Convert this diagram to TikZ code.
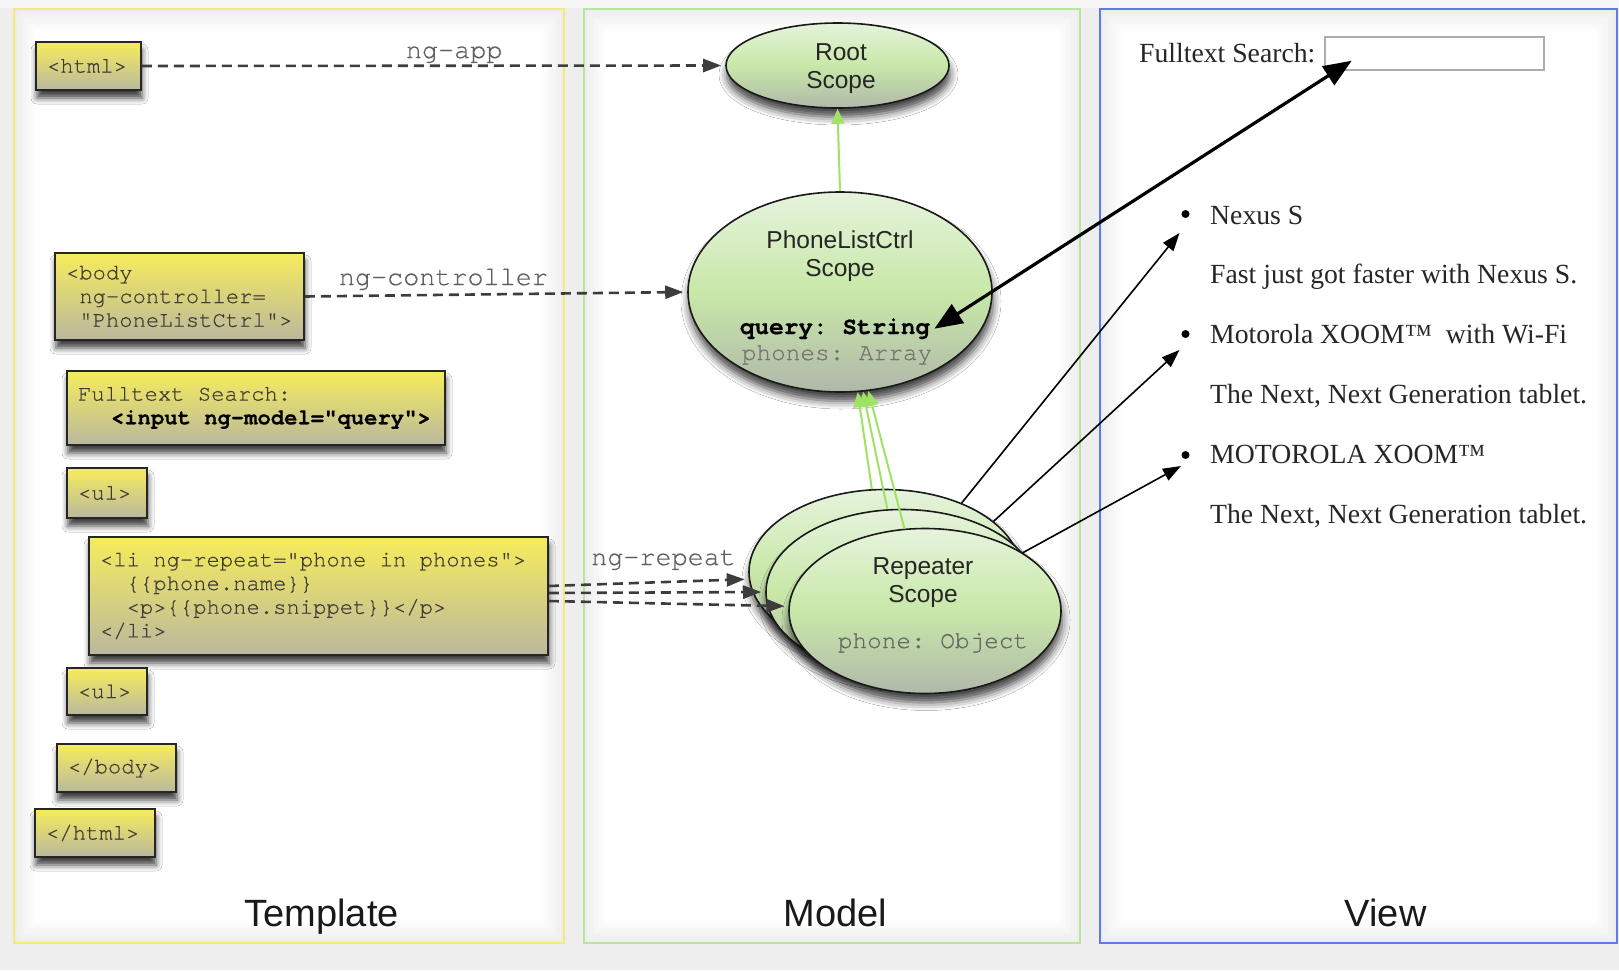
\documentclass[tikz,border=0pt]{standalone}
\usepackage{fontspec}
\setmainfont{Liberation Serif}
\newfontfamily\sansf{Liberation Sans}
\newfontfamily\monof{TeX Gyre Cursor}[FakeBold=0.5]
\usetikzlibrary{arrows.meta,shapes.geometric,shadows.blur}

\definecolor{tagtop}{RGB}{246,236,92}
\definecolor{tagbot}{RGB}{186,184,158}
\definecolor{tagink}{RGB}{62,60,52}
\definecolor{scopetop}{RGB}{230,243,220}
\definecolor{scopemid}{RGB}{200,232,168}
\definecolor{scopebot}{RGB}{176,184,170}
\definecolor{panelY}{RGB}{244,234,120}
\definecolor{panelG}{RGB}{184,228,160}
\definecolor{panelB}{RGB}{92,122,240}
\definecolor{linkgreen}{RGB}{160,226,100}
\definecolor{dashink}{RGB}{60,60,60}
\definecolor{lblink}{RGB}{96,96,96}
\definecolor{bgcol}{RGB}{238,238,238}

\newcommand\tagfont{\monof\fontsize{22.2}{23.7}\selectfont}
\newcommand\lblfont{\monof\fontsize{26.8}{28}\selectfont}
\newcommand\fieldfont{\monof\fontsize{24.4}{26}\selectfont}
\newcommand\scopefont{\sansf\fontsize{24.5}{28}\selectfont}
\newcommand\panelfont{\sansf\fontsize{38}{40}\selectfont}
\newcommand\pagefont{\fontsize{27.7}{30}\selectfont}
% one fixed-pitch blank cell in the typewriter lines
\newcommand\blankcell{\phantom{x}}

\tikzset{
  tagbox/.style={draw=black!85, line width=1.8pt, top color=tagtop, bottom color=tagbot,
    text=tagink, font=\tagfont, align=left, inner xsep=11pt, inner ysep=0pt,
    blur shadow={shadow xshift=1pt, shadow yshift=-8pt, shadow blur radius=6pt, shadow opacity=75}},
  scopeell/.style={ellipse, draw=black!90, line width=1.6pt, top color=scopetop,
    bottom color=scopebot, middle color=scopemid, inner sep=0pt,
    blur shadow={shadow xshift=1pt, shadow yshift=-9pt, shadow blur radius=8pt, shadow opacity=75}},
  scopetxt/.style={font=\scopefont, text=black!85, inner sep=0pt, anchor=base},
  fieldtxt/.style={font=\fieldfont, inner xsep=4pt, inner ysep=2pt, anchor=base},
  lbl/.style={font=\lblfont, text=lblink, inner sep=0pt, anchor=base west},
  paneltxt/.style={font=\panelfont, text=black!90, inner sep=0pt, anchor=base},
  pagetxt/.style={font=\pagefont, text=black!85, inner sep=0pt, anchor=base west},
  dot/.style={circle, fill=black, inner sep=0pt, minimum size=8pt},
  bind/.style={dashink, line width=2.6pt, dash pattern=on 10pt off 6pt,
    -{Triangle[length=18pt,width=13pt]}, shorten >=4pt},
  inherit/.style={linkgreen, line width=2pt, -{Triangle[length=15pt,width=13pt]}},
  render/.style={black, line width=1.6pt, -{Triangle[length=18pt,width=13pt]}},
  twoway/.style={black, line width=3.2pt,
    {Triangle[length=28pt,width=22pt]}-{Triangle[length=28pt,width=22pt]}},
}

\begin{document}
\frenchspacing
\begin{tikzpicture}[x=1pt,y=-1pt]
\useasboundingbox (0,0) rectangle (1619,970);
\fill[bgcol] (0,0) rectangle (1619,970);
\fill[black!3] (0,0) rectangle (1619,8);

% three panels with a soft inner shade
\foreach \xa/\xb/\col in {14/564/panelY,584/1080/panelG,1100/1617/panelB}{
  \foreach \k in {0,...,7}{
    \pgfmathtruncatemacro\tone{7-\k}
    \fill[black!\tone] (\xa+3*\k,9+3*\k) rectangle (\xb-3*\k,943-3*\k);
  }
  \draw[\col, line width=2pt] (\xa,9) rectangle (\xb,943);
}

\node[paneltxt] (tmpl) at (321.6,926.5) {Template};
\node[paneltxt] (mdl) at (835.5,926.5) {Model};
\node[paneltxt] (vw) at (1385.6,926.5) {View};

% template tags
\node[tagbox, minimum width=105pt, minimum height=48pt, text width=83pt] (html) at (88.5,66) {<html>};
\node[tagbox, minimum width=249pt, minimum height=87pt, text width=227pt] (body) at (179.5,296.5)
  {<body\\\blankcell ng-controller=\\\blankcell "PhoneListCtrl">};
\node[tagbox, minimum width=378pt, minimum height=74pt, text width=356pt] (fulltext) at (256,408)
  {Fulltext\blankcell Search:\\\hspace*{33pt}{\color{black}\bfseries <input\blankcell ng-model="query">}};
\node[tagbox, minimum width=80pt, minimum height=50pt, text width=58pt] (ulA) at (107,493) {<ul>};
\node[tagbox, minimum width=459pt, minimum height=118pt, text width=437pt] (li) at (318.5,596)
  {<li\blankcell ng-repeat="phone\blankcell in\blankcell phones">\\\blankcell\blankcell\{\{phone.name\}\}\\\blankcell\blankcell <p>\{\{phone.snippet\}\}</p>\\</li>};
\node[tagbox, minimum width=80pt, minimum height=47pt, text width=58pt] (ulB) at (107,691.5) {<ul>};
\node[tagbox, minimum width=119pt, minimum height=48pt, text width=97pt] (ebody) at (116.5,768) {</body>};
\node[tagbox, minimum width=120pt, minimum height=48pt, text width=98pt] (ehtml) at (95,833) {</html>};

% model scopes
\node[scopeell, minimum width=223pt, minimum height=85pt] (root) at (837.5,65.5) {};
\node[scopetxt] (rootA) at (841,60) {Root};
\node[scopetxt] (rootB) at (841,88) {Scope};

\node[scopeell, minimum width=304pt, minimum height=200pt] (plc) at (840,292) {};
\node[scopetxt] (plcA) at (840,248) {PhoneListCtrl};
\node[scopetxt] (plcB) at (840,276.5) {Scope};
\node[fieldtxt, font={\fieldfont\bfseries}, text=black] (query) at (835,334) {query:\blankcell String};
\node[fieldtxt, text=black!55] (phones) at (837,360) {phones:\blankcell Array};

\node[scopeell, minimum width=272pt, minimum height=165pt] (rep1) at (885,572) {};
\node[scopeell, minimum width=272pt, minimum height=165pt] (rep2) at (902,592) {};
\node[scopeell, minimum width=272pt, minimum height=165pt] (rep3) at (925,611) {};
\node[scopetxt] (repA) at (923,574) {Repeater};
\node[scopetxt] (repB) at (923,602) {Scope};
\node[fieldtxt, text=black!60] (phone) at (933,648) {phone:\blankcell Object};

% rendered view
\node[pagetxt] (search) at (1139,62) {Fulltext Search:};
\node[draw=gray!65, line width=1.5pt, fill=white, minimum width=219pt, minimum height=33pt, inner sep=0pt] (sbox) at (1434.7,53.4) {};
\coordinate (sq) at (1351.7,60.7);

\node[dot] (b1) at (1185.5,214) {};
\node[dot] (b2) at (1185.5,334) {};
\node[dot] (b3) at (1185.5,455) {};
\node[pagetxt] (n1) at (1210,224) {Nexus S};
\node[pagetxt] (d1) at (1210,283.5) {Fast just got faster with Nexus S.};
\node[pagetxt] (n2) at (1210,343) {Motorola XOOM™\ \ with Wi-Fi};
\node[pagetxt] (d2) at (1210,403.5) {The Next, Next Generation tablet.};
\node[pagetxt] (n3) at (1210,463) {MOTOROLA XOOM™};
\node[pagetxt] (d3) at (1210,523.5) {The Next, Next Generation tablet.};
\coordinate (e1) at (1179.5,233);
\coordinate (e2) at (1179.5,350);
\coordinate (e3) at (1181,466);

% directive bindings
\draw[bind] (html.east) -- (root.west);
\draw[bind] (body.east) -- (plc.west);
\draw[bind] ([yshift=10pt]li.east) -- (rep1.183);
\draw[bind] ([yshift=3pt]li.east) -- (rep2.west);
\draw[bind] ([yshift=-5pt]li.east) -- (rep3.178);
\node[lbl] (lapp) at (405.7,58) {ng-app};
\node[lbl] (lctl) at (338.7,285) {ng-controller};
\node[lbl] (lrep) at (591,565) {ng-repeat};

% scope inheritance
\draw[inherit] (plc.north) -- (root.south);
\draw[inherit] (rep1.99) -- (plc.280);
\draw[inherit] (rep2.100) -- (plc.283);
\draw[inherit] (rep3.104) -- (plc.286);

% rendering and two-way binding
\draw[render] (rep1.42) -- (e1);
\draw[render] (rep1.25) -- (e2);
\draw[render] (rep2.18) -- (e3);
\draw[twoway] (query.east) -- (sq);
\end{tikzpicture}
\end{document}
